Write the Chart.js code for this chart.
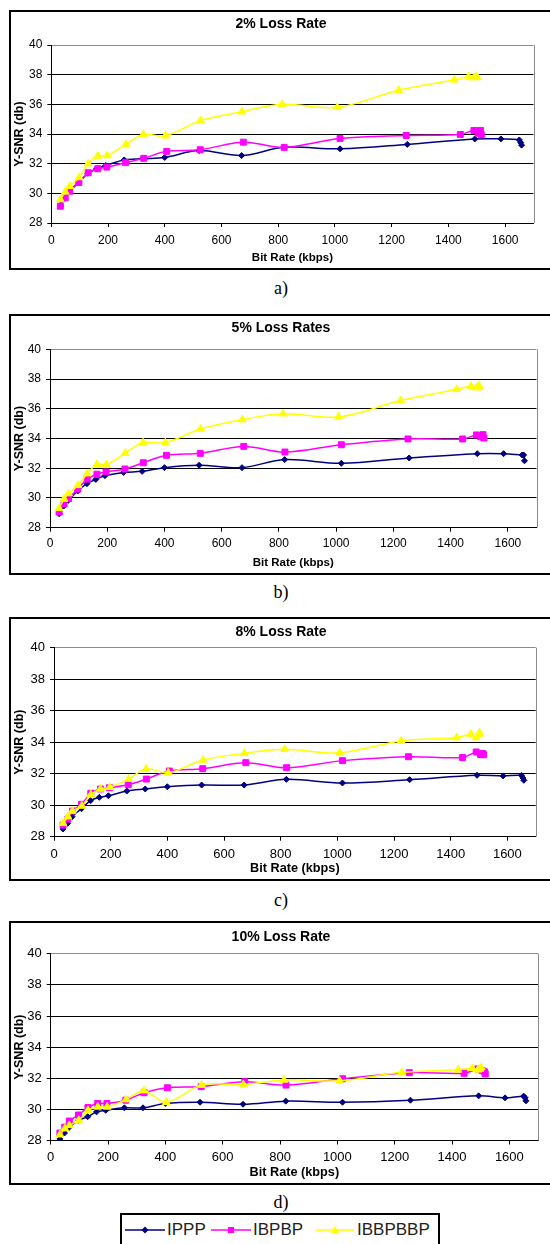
<!DOCTYPE html>
<html>
<head>
<meta charset="utf-8">
<script src="https://cdn.jsdelivr.net/npm/chart.js@4.4.1/dist/chart.umd.min.js"></script>
<style>
  html, body { margin: 0; padding: 0; background: #fff; }
  body { width: 550px; height: 1244px; position: relative; overflow: hidden; font-family: 'Liberation Sans', Arial, sans-serif; }
  canvas { position: absolute; left: 0; }
  .frame { position: absolute; left: 9px; width: 560px; border: 2px solid #000; box-sizing: border-box; pointer-events: none; }
  .caption { position: absolute; left: 281px; transform: translateX(-50%); line-height: 20px; font-family: 'Liberation Serif', 'Times New Roman', serif; font-size: 18px; color: #000; }
  #legend { position: absolute; left: 120px; top: 1213px; width: 320px; height: 50px; border: 2px solid #000; box-sizing: border-box; }
  .sym { position: absolute; top: 1224px; }
  .lbl { position: absolute; top: 1219px; line-height: 22px; font-size: 17px; color: #222; }
</style>
</head>
<body>

<canvas id="chartA" width="550" height="260" style="top:10px;width:550px;height:260px"></canvas>
<canvas id="chartB" width="550" height="261" style="top:314px;width:550px;height:261px"></canvas>
<canvas id="chartC" width="550" height="264" style="top:617px;width:550px;height:264px"></canvas>
<canvas id="chartD" width="550" height="264" style="top:921px;width:550px;height:264px"></canvas>

<div class="frame" style="top:10px;height:260px"></div>
<div class="frame" style="top:314px;height:261px"></div>
<div class="frame" style="top:617px;height:264px"></div>
<div class="frame" style="top:921px;height:264px"></div>

<div class="caption" style="top:278px">a)</div>
<div class="caption" style="top:582px">b)</div>
<div class="caption" style="top:890px">c)</div>
<div class="caption" style="top:1192px">d)</div>

<div id="legend"></div>
<svg class="sym" style="left:125px" width="40" height="12"><line x1="0" y1="6" x2="40" y2="6" stroke="#000080" stroke-width="1.5"/><polygon points="20,2.5 23.5,6 20,9.5 16.5,6" fill="#000080"/></svg>
<span class="lbl" style="left:167px">IPPP</span>
<svg class="sym" style="left:211px" width="40" height="12"><line x1="0" y1="6" x2="40" y2="6" stroke="#ff00ff" stroke-width="1.5"/><rect x="17" y="3" width="6" height="6" fill="#ff00ff"/></svg>
<span class="lbl" style="left:253px">IBPBP</span>
<svg class="sym" style="left:316px" width="38" height="12"><line x1="0" y1="6" x2="38" y2="6" stroke="#ffff00" stroke-width="1.5"/><polygon points="19,1.5 23,9.5 15,9.5" fill="#ffff00"/></svg>
<span class="lbl" style="left:357px">IBBPBBP</span>

<script>
// bit rates (kbps), same streams in every panel
const ipppRate = [32, 48, 64, 97, 129, 160, 192, 257, 322, 400, 521, 671, 820, 1018, 1255, 1493, 1585, 1650, 1655, 1658];
const ibpbpRate = [32, 49, 65, 97, 130, 164, 196, 262, 326, 407, 525, 677, 821, 1018, 1251, 1442, 1490, 1505, 1513, 1516];
const ibbpbbpRate = [32, 49, 65, 98, 130, 164, 197, 263, 325, 403, 526, 672, 814, 1008, 1225, 1421, 1471, 1490, 1498, 1502];

// Y-SNR (db), 2% loss
const ippp2 = [29.2, 29.65, 30.15, 30.75, 31.35, 31.66, 31.88, 32.25, 32.33, 32.42, 32.88, 32.55, 33.1, 33.0, 33.3, 33.67, 33.67, 33.6, 33.42, 33.25];
const ibpbp2 = [29.13, 29.7, 30.14, 30.73, 31.39, 31.66, 31.77, 32.07, 32.36, 32.83, 32.94, 33.45, 33.1, 33.7, 33.9, 33.97, 34.24, 34.05, 34.24, 33.95];
const ibbpbbp2 = [29.58, 30.1, 30.48, 31.07, 32.0, 32.52, 32.55, 33.3, 33.97, 33.88, 34.9, 35.5, 36.0, 35.8, 36.95, 37.65, 37.87, 37.8, 37.9, 37.82];

// 5% loss
const ippp5 = [28.94, 29.46, 29.84, 30.47, 30.96, 31.25, 31.5, 31.72, 31.79, 32.04, 32.2, 32.04, 32.58, 32.33, 32.69, 32.98, 32.98, 32.89, 32.89, 32.5];
const ibpbp5 = [29.05, 29.6, 29.97, 30.6, 31.27, 31.6, 31.75, 31.95, 32.37, 32.87, 33.0, 33.47, 33.09, 33.58, 33.97, 33.97, 34.24, 34.12, 34.26, 34.03];
const ibbpbbp5 = [29.3, 29.93, 30.3, 30.85, 31.63, 32.26, 32.24, 33.02, 33.72, 33.72, 34.64, 35.27, 35.67, 35.45, 36.55, 37.31, 37.51, 37.42, 37.58, 37.44];

// 8% loss
const ippp8 = [28.49, 28.85, 29.27, 29.78, 30.29, 30.5, 30.6, 30.9, 31.03, 31.17, 31.28, 31.28, 31.64, 31.41, 31.62, 31.9, 31.86, 31.89, 31.73, 31.58];
const ibpbp8 = [28.74, 29.12, 29.63, 30.06, 30.76, 31.03, 31.11, 31.3, 31.66, 32.17, 32.32, 32.7, 32.38, 32.83, 33.08, 33.03, 33.38, 33.22, 33.28, 33.2];
const ibbpbbp8 = [28.85, 29.27, 29.63, 29.95, 30.67, 31.03, 31.14, 31.66, 32.3, 32.06, 32.87, 33.3, 33.55, 33.33, 34.08, 34.29, 34.5, 34.29, 34.5, 34.6];

// 10% loss
const ippp10 = [28.1, 28.48, 28.84, 29.3, 29.53, 29.84, 29.94, 30.1, 30.1, 30.38, 30.46, 30.33, 30.53, 30.46, 30.59, 30.87, 30.74, 30.85, 30.75, 30.55];
const ibpbp10 = [28.48, 28.86, 29.25, 29.64, 30.12, 30.38, 30.38, 30.59, 31.07, 31.39, 31.46, 31.78, 31.56, 31.97, 32.36, 32.32, 32.6, 32.5, 32.42, 32.28];
const ibbpbbp10 = [28.37, 28.76, 28.97, 29.3, 29.94, 30.16, 30.16, 30.63, 31.2, 30.46, 31.56, 31.6, 31.89, 31.84, 32.38, 32.54, 32.64, 32.54, 32.6, 32.7];

const seriesNames = ['IPPP', 'IBPBP', 'IBBPBBP'];
const titles = ['2% Loss Rate', '5% Loss Rates', '8% Loss Rate', '10% Loss Rate'];
const xTitle = 'Bit Rate (kbps)';
const yTitle = 'Y-SNR (db)';

const FONT = '"Liberation Sans", Arial, sans-serif';
Chart.defaults.font.family = FONT;
Chart.defaults.color = '#000';

// draws the panel title centred on the frame, plus the grey right edge of the plot
const panelTitle = {
  id: 'panelTitle',
  afterDraw(chart, args, opts) {
    const { ctx, chartArea } = chart;
    ctx.save();
    ctx.strokeStyle = '#8c8c8c';
    ctx.lineWidth = 1;
    ctx.beginPath();
    ctx.moveTo(Math.round(chartArea.right) + 0.5, chartArea.top);
    ctx.lineTo(Math.round(chartArea.right) + 0.5, chartArea.bottom);
    ctx.stroke();
    ctx.font = 'bold 14px ' + FONT;
    ctx.fillStyle = '#000';
    ctx.textAlign = 'center';
    ctx.textBaseline = 'middle';
    ctx.fillText(opts.text, 281, opts.y);
    ctx.restore();
  }
};

function series(label, rates, values, color, style, radius, order) {
  return {
    label,
    data: rates.map((x, i) => ({ x, y: values[i] })),
    borderColor: color,
    backgroundColor: color,
    pointStyle: style,
    pointRadius: radius,
    pointBorderWidth: 1,
    borderWidth: 1.5,
    tension: 0.35,
    order
  };
}

// page geometry of each panel: frame top/height, plot box, title and axis-title rows
const panels = [
  { id: 'chartA', top: 10, h: 260, L: 51.3, R: 533.5, T: 45, B: 223, titleY: 24, xTitleY: 258.3, tick: 12, xFont: 11.5, tickPad: 6,
    ys: [ippp2, ibpbp2, ibbpbbp2] },
  { id: 'chartB', top: 314, h: 261, L: 50, R: 536.5, T: 349.3, B: 527.7, titleY: 328, xTitleY: 563.3, tick: 12, xFont: 11.5, tickPad: 5,
    ys: [ippp5, ibpbp5, ibbpbbp5] },
  { id: 'chartC', top: 617, h: 264, L: 54, R: 535.7, T: 647.7, B: 836.7, titleY: 632, xTitleY: 868.3, tick: 13, xFont: 12.7, tickPad: 6,
    ys: [ippp8, ibpbp8, ibbpbbp8] },
  { id: 'chartD', top: 921, h: 264, L: 50.7, R: 538, T: 953.8, B: 1140.5, titleY: 937, xTitleY: 1172.7, tick: 13, xFont: 12.7, tickPad: 5.5,
    ys: [ippp10, ibpbp10, ibbpbbp10] }
];

panels.forEach((p, n) => {
  const padL = 12;
  const yW = p.L - padL;
  const xH = p.xTitleY - p.B + p.xFont * 1.2 / 2;
  const padB = p.h - (p.B - p.top) - xH;

  new Chart(document.getElementById(p.id), {
    type: 'line',
    data: {
      datasets: [
        series(seriesNames[0], ipppRate, p.ys[0], '#000080', 'rectRot', 3, 2),
        series(seriesNames[1], ibpbpRate, p.ys[1], '#ff00ff', 'rect', 4.2, 1),
        series(seriesNames[2], ibbpbbpRate, p.ys[2], '#ffff00', 'triangle', 4.5, 0)
      ]
    },
    options: {
      responsive: false,
      devicePixelRatio: 1,
      animation: false,
      events: [],
      layout: { padding: { left: padL, right: 550 - p.R, top: p.T - p.top, bottom: padB } },
      plugins: {
        legend: { display: false },
        tooltip: { enabled: false },
        panelTitle: { text: titles[n], y: p.titleY - p.top }
      },
      scales: {
        x: {
          type: 'linear',
          min: 0,
          max: 1700,
          afterFit: (s) => { s.height = xH; },
          ticks: {
            stepSize: 200, includeBounds: false, padding: p.tickPad, font: { size: p.tick }, color: '#000', maxRotation: 0,
            callback: (v) => String(v)
          },
          grid: { drawOnChartArea: false, drawTicks: true, tickLength: 4, tickColor: '#000' },
          border: { color: '#000', width: 1 },
          title: { display: true, text: xTitle, padding: 0, font: { size: p.xFont, weight: 'bold' }, color: '#000' }
        },
        y: {
          min: 28,
          max: 40,
          afterFit: (s) => { s.width = yW; },
          ticks: { stepSize: 2, padding: 5, font: { size: p.tick }, color: '#000' },
          grid: {
            color: (c) => (c.tick && c.tick.value === 40 ? '#8c8c8c' : '#000'),
            lineWidth: 1,
            tickLength: 4,
            tickColor: '#000'
          },
          border: { color: '#000', width: 1 },
          title: { display: true, text: yTitle, padding: 0, font: { size: 12.5, weight: 'bold' }, color: '#000' }
        }
      }
    },
    plugins: [panelTitle]
  });
});
</script>
</body>
</html>
